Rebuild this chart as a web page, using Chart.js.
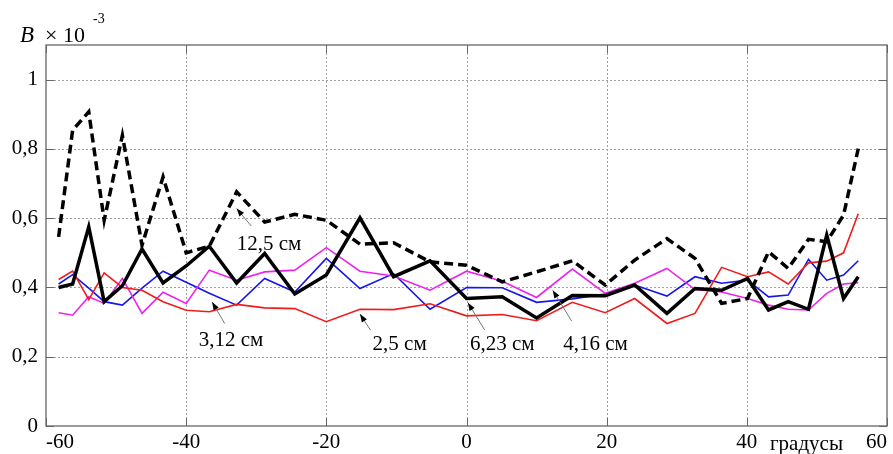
<!DOCTYPE html>
<html>
<head>
<meta charset="utf-8">
<script src="https://cdn.jsdelivr.net/npm/chart.js@4.4.1/dist/chart.umd.min.js"></script>
<style>
  html, body { margin: 0; padding: 0; background: #fff; }
  #wrap { width: 893px; height: 454px; }
</style>
</head>
<body>
<div id="wrap"><canvas id="chart" width="893" height="454"></canvas></div>
<script>
// Measurement angles, degrees
const angles = [-58.2, -56.2, -53.9, -51.7, -49.1, -46.3, -43.3, -40.0, -36.7, -32.8, -28.8, -24.5,
  -20.0, -15.2, -10.4, -5.2, 0, 5.1, 10.0, 15.1, 19.8, 24.0, 28.6, 32.6, 36.4, 40.1, 43.1, 45.9,
  48.8, 51.4, 53.8, 55.9];

// B (x 10^-3) for each distance
const b_2_5 = [0.423, 0.447, 0.365, 0.442, 0.400, 0.392, 0.359, 0.334, 0.330, 0.351, 0.341, 0.339,
  0.301, 0.337, 0.336, 0.353, 0.318, 0.322, 0.304, 0.357, 0.327, 0.368, 0.296, 0.325, 0.458, 0.431,
  0.445, 0.410, 0.471, 0.476, 0.500, 0.613];
const b_3_12 = [0.410, 0.437, 0.398, 0.359, 0.349, 0.398, 0.447, 0.415, 0.383, 0.349, 0.426, 0.387,
  0.484, 0.397, 0.440, 0.337, 0.400, 0.399, 0.357, 0.367, 0.381, 0.407, 0.375, 0.431, 0.412, 0.421,
  0.373, 0.378, 0.481, 0.421, 0.436, 0.477];
const b_4_16 = [0.327, 0.320, 0.373, 0.354, 0.426, 0.325, 0.386, 0.354, 0.450, 0.421, 0.445, 0.450,
  0.515, 0.447, 0.433, 0.392, 0.447, 0.418, 0.371, 0.453, 0.383, 0.412, 0.455, 0.394, 0.387, 0.368,
  0.349, 0.337, 0.335, 0.383, 0.410, 0.414];
const b_6_23 = [0.400, 0.410, 0.575, 0.359, 0.405, 0.511, 0.413, 0.462, 0.519, 0.413, 0.498, 0.381,
  0.436, 0.601, 0.431, 0.477, 0.368, 0.373, 0.312, 0.377, 0.376, 0.407, 0.325, 0.397, 0.392, 0.426,
  0.335, 0.359, 0.337, 0.551, 0.368, 0.431];
const b_12_5 = [0.546, 0.854, 0.907, 0.594, 0.839, 0.522, 0.719, 0.500, 0.519, 0.676, 0.589, 0.611,
  0.594, 0.525, 0.529, 0.474, 0.464, 0.416, 0.445, 0.477, 0.407, 0.479, 0.541, 0.484, 0.354, 0.368,
  0.503, 0.455, 0.539, 0.532, 0.609, 0.801];

// Axis ticks
const xTicks = [-60, -40, -20, 0, 20, 40, 60];
const yTicks = [0, 0.2, 0.4, 0.6, 0.8, 1];
const yTickLabels = ['0', '0,2', '0,4', '0,6', '0,8', '1'];

// Curve labels: text anchor and arrow (tail -> head), in data units
const curveLabels = [
  { text: '12,5 см', at: [-32.8, 0.507], tail: [-30.7, 0.577], head: [-32.8, 0.628] },
  { text: '3,12 см', at: [-38.2, 0.231], tail: [-34.5, 0.296], head: [-36.3, 0.358] },
  { text: '2,5 см',  at: [-13.4, 0.219], tail: [-13.7, 0.277], head: [-15.2, 0.323] },
  { text: '6,23 см', at: [0.5, 0.219],   tail: [2.6, 0.277],   head: [0.2, 0.356] },
  { text: '4,16 см', at: [13.8, 0.219],  tail: [15.0, 0.303],  head: [12.3, 0.392] }
];

const SERIF = '"Liberation Serif", "Times New Roman", serif';
const pts = arr => angles.map((a, i) => ({ x: a, y: arr[i] }));

const frame = {
  id: 'frame',
  beforeDatasetsDraw(chart) {
    const { ctx, chartArea: a, scales: { x, y } } = chart;
    ctx.save();
    ctx.strokeStyle = '#a0a0a0';
    ctx.lineWidth = 1;
    ctx.setLineDash([2, 2]);
    xTicks.slice(1, -1).forEach(v => {
      const px = Math.round(x.getPixelForValue(v)) + 0.5;
      ctx.beginPath(); ctx.moveTo(px, a.top); ctx.lineTo(px, a.bottom); ctx.stroke();
    });
    yTicks.slice(1).forEach(v => {
      const py = Math.round(y.getPixelForValue(v)) + 0.5;
      ctx.beginPath(); ctx.moveTo(a.left, py); ctx.lineTo(a.right, py); ctx.stroke();
    });
    ctx.restore();
  },
  afterDatasetsDraw(chart) {
    const { ctx, chartArea: a, scales: { x, y } } = chart;
    ctx.save();
    ctx.strokeStyle = '#666';
    ctx.lineWidth = 1.3;
    ctx.setLineDash([]);
    ctx.strokeRect(a.left, a.top, a.right - a.left, a.bottom - a.top);
    const t = 8;
    ctx.lineWidth = 1;
    xTicks.forEach(v => {
      const px = Math.round(x.getPixelForValue(v)) + 0.5;
      ctx.beginPath();
      ctx.moveTo(px, a.bottom); ctx.lineTo(px, a.bottom - t);
      ctx.moveTo(px, a.top); ctx.lineTo(px, a.top + t);
      ctx.stroke();
    });
    yTicks.forEach(v => {
      const py = Math.round(y.getPixelForValue(v)) + 0.5;
      ctx.beginPath();
      ctx.moveTo(a.left, py); ctx.lineTo(a.left + t, py);
      ctx.moveTo(a.right, py); ctx.lineTo(a.right - t, py);
      ctx.stroke();
    });
    ctx.restore();
  },
  afterDraw(chart) {
    const { ctx, scales: { x, y } } = chart;
    ctx.save();
    ctx.fillStyle = '#000';
    ctx.textBaseline = 'alphabetic';
    ctx.textAlign = 'left';

    // axis captions
    ctx.font = 'italic 23px ' + SERIF;
    ctx.fillText('B', 20, 42);
    ctx.font = '22px ' + SERIF;
    ctx.fillText('× 10', 45, 42);
    ctx.font = '14px ' + SERIF;
    ctx.fillText('-3', 93, 23);
    ctx.font = '21px ' + SERIF;
    ctx.fillText('градусы', 770, 450);

    // curve labels with arrows
    curveLabels.forEach(l => {
      const tx = x.getPixelForValue(l.tail[0]), ty = y.getPixelForValue(l.tail[1]);
      const hx = x.getPixelForValue(l.head[0]), hy = y.getPixelForValue(l.head[1]);
      ctx.strokeStyle = '#777';
      ctx.lineWidth = 1;
      ctx.beginPath(); ctx.moveTo(tx, ty); ctx.lineTo(hx, hy); ctx.stroke();
      const ang = Math.atan2(hy - ty, hx - tx);
      const len = 8, w = 3;
      ctx.fillStyle = '#000';
      ctx.beginPath();
      ctx.moveTo(hx, hy);
      ctx.lineTo(hx - len * Math.cos(ang) + w * Math.sin(ang), hy - len * Math.sin(ang) - w * Math.cos(ang));
      ctx.lineTo(hx - len * Math.cos(ang) - w * Math.sin(ang), hy - len * Math.sin(ang) + w * Math.cos(ang));
      ctx.closePath(); ctx.fill();
      ctx.font = '21px ' + SERIF;
      ctx.fillText(l.text, x.getPixelForValue(l.at[0]), y.getPixelForValue(l.at[1]));
    });
    ctx.restore();
  }
};

new Chart(document.getElementById('chart'), {
  type: 'line',
  data: {
    datasets: [
      { label: '12,5 см', data: pts(b_12_5), borderColor: '#000', borderWidth: 3.5, borderDash: [9, 5] },
      { label: '6,23 см', data: pts(b_6_23), borderColor: '#000', borderWidth: 3.5 },
      { label: '2,5 см', data: pts(b_2_5), borderColor: '#f01c1c', borderWidth: 1.6 },
      { label: '4,16 см', data: pts(b_4_16), borderColor: '#ee22ee', borderWidth: 1.6 },
      { label: '3,12 см', data: pts(b_3_12), borderColor: '#1515ee', borderWidth: 1.6 }
    ]
  },
  options: {
    responsive: false,
    animation: false,
    devicePixelRatio: 1,
    layout: { padding: { top: 45, right: 6, left: 0, bottom: 0 } },
    elements: { point: { radius: 0 }, line: { tension: 0, borderCapStyle: 'butt', borderJoinStyle: 'miter' } },
    plugins: { legend: { display: false }, tooltip: { enabled: false } },
    scales: {
      x: {
        type: 'linear', min: -60, max: 60,
        afterBuildTicks: s => { s.ticks = xTicks.map(v => ({ value: v })); },
        afterFit: s => { s.height = 28; },
        grid: { display: false, drawTicks: false },
        border: { display: false },
        ticks: {
          autoSkip: false, maxRotation: 0, align: 'inner', padding: 4,
          color: '#000', font: { family: SERIF, size: 21 },
          callback: v => String(v)
        }
      },
      y: {
        type: 'linear', min: 0, max: 1.1,
        afterBuildTicks: s => { s.ticks = yTicks.map(v => ({ value: v })); },
        afterFit: s => { s.width = 46; },
        grid: { display: false, drawTicks: false },
        border: { display: false },
        ticks: {
          autoSkip: false, padding: 8,
          color: '#000', font: { family: SERIF, size: 21 },
          callback: v => yTickLabels[yTicks.indexOf(v)]
        }
      }
    }
  },
  plugins: [frame]
});
</script>
</body>
</html>
